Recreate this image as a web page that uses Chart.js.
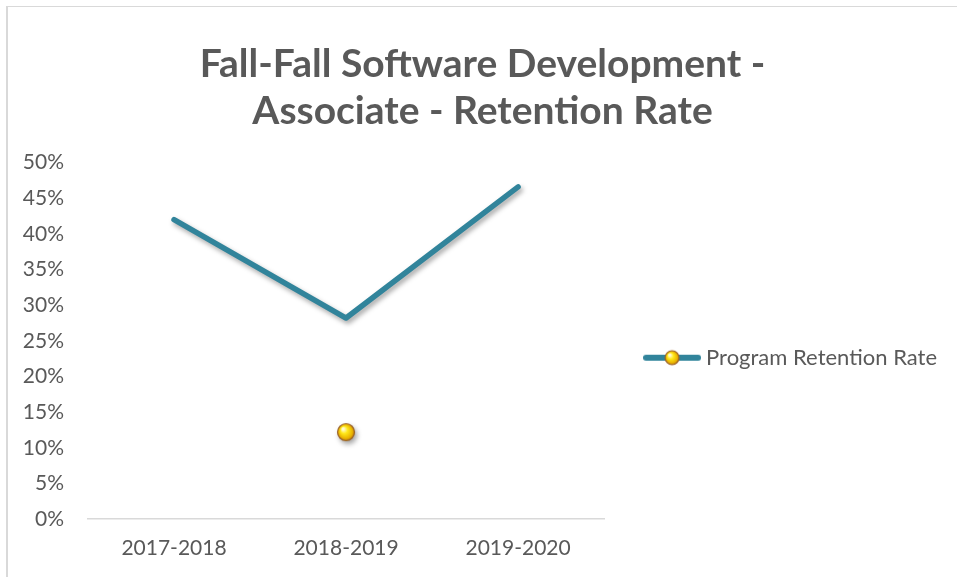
<!DOCTYPE html>
<html>
<head>
<meta charset="utf-8">
<script src="https://cdn.jsdelivr.net/npm/chart.js@4.4.1/dist/chart.umd.min.js"></script>
<style>
  html, body { margin: 0; padding: 0; background: #fff; }
  #wrap { position: relative; width: 957px; height: 577px; overflow: hidden; }
  #frame { position: absolute; left: 6px; top: 6px; width: 980px; height: 600px;
           border-left: 2px solid #d9d9d9; border-top: 1px solid #d9d9d9; }
  canvas { position: absolute; left: 0; top: 0; }
</style>
</head>
<body>
<div id="wrap">
  <div id="frame"></div>
  <canvas id="retentionChart" width="957" height="577"></canvas>
</div>
<script>
var categories = ['2017-2018', '2018-2019', '2019-2020'];
var retentionRate = [42.0, 28.2, 46.6];
var markerValues = [null, 12.2, null];
var seriesName = 'Program Retention Rate';
var chartTitle = ['Fall-Fall Software Development -', 'Associate - Retention Rate'];

var lineColor = '#31849b';
var textColor = '#595959';

// yellow ball used for the marker and in the legend
function drawBall(ctx, cx, cy, r) {
    var g = ctx.createRadialGradient(cx - r * 0.35, cy - r * 0.4, 1, cx, cy, r);
    g.addColorStop(0, '#fffbd2');
    g.addColorStop(0.35, '#ffe81a');
    g.addColorStop(0.8, '#e9b200');
    g.addColorStop(1, '#b8770f');
    ctx.beginPath();
    ctx.arc(cx, cy, r, 0, Math.PI * 2);
    ctx.fillStyle = g;
    ctx.fill();
    ctx.lineWidth = 1.2;
    ctx.strokeStyle = '#9c6428';
    ctx.stroke();
}

var ballImg = document.createElement('canvas');
ballImg.width = 20; ballImg.height = 20;
drawBall(ballImg.getContext('2d'), 10, 10, 8.5);

var legendImg = document.createElement('canvas');
legendImg.width = 58; legendImg.height = 20;
(function () {
    var c = legendImg.getContext('2d');
    c.strokeStyle = lineColor;
    c.lineWidth = 6;
    c.lineCap = 'round';
    c.beginPath();
    c.moveTo(3, 10);
    c.lineTo(55, 10);
    c.stroke();
    drawBall(c, 29, 10, 7);
})();

var shadowPlugin = {
    id: 'lineShadow',
    beforeDatasetDraw: function (chart) {
        var ctx = chart.ctx;
        ctx.save();
        ctx.shadowColor = 'rgba(0,0,0,0.35)';
        ctx.shadowBlur = 5;
        ctx.shadowOffsetX = 2;
        ctx.shadowOffsetY = 3;
    },
    afterDatasetDraw: function (chart) {
        chart.ctx.restore();
    }
};

function buildChart() {
    var ctx = document.getElementById('retentionChart').getContext('2d');
    new Chart(ctx, {
        type: 'line',
        data: {
            labels: categories,
            datasets: [
                {
                    label: seriesName,
                    data: retentionRate,
                    borderColor: lineColor,
                    borderWidth: 5.5,
                    borderCapStyle: 'round',
                    borderJoinStyle: 'round',
                    pointRadius: 0,
                    tension: 0,
                    fill: false
                },
                {
                    label: 'marker',
                    data: markerValues,
                    showLine: false,
                    pointStyle: ballImg,
                    pointRadius: 9
                }
            ]
        },
        options: {
            responsive: false,
            animation: false,
            layout: { padding: { left: 18, right: 10, top: 8, bottom: 0 } },
            plugins: {
                title: {
                    display: true,
                    text: chartTitle,
                    color: textColor,
                    font: { family: 'Lato', size: 39, weight: 'bold', lineHeight: 1.2 },
                    padding: { top: 33, bottom: 28 }
                },
                legend: {
                    position: 'right',
                    maxWidth: 420,
                    // empty legend title only pushes the entry down to where Excel puts it
                    title: { display: true, text: '', padding: { top: 0, bottom: 116 } },
                    labels: {
                        usePointStyle: true,
                        pointStyleWidth: 46,
                        padding: 45,
                        color: textColor,
                        font: { family: 'Lato', size: 22 },
                        generateLabels: function () {
                            return [{
                                text: seriesName,
                                pointStyle: legendImg,
                                fontColor: textColor,
                                datasetIndex: 0,
                                lineWidth: 0
                            }];
                        }
                    }
                },
                tooltip: { enabled: false }
            },
            scales: {
                x: {
                    offset: true,
                    grid: { display: false, drawTicks: false },
                    border: { display: true, color: '#d9d9d9', width: 1.5 },
                    ticks: { color: textColor, font: { family: 'Lato', size: 21, lineHeight: 0.85 }, padding: 20 }
                },
                y: {
                    min: 0,
                    max: 50,
                    grid: { display: false, drawTicks: false },
                    border: { display: false },
                    afterFit: function (scale) { scale.width = 70; },
                    ticks: {
                        stepSize: 5,
                        color: textColor,
                        font: { family: 'Lato', size: 21 },
                        padding: 24,
                        callback: function (v) { return v + '%'; }
                    }
                }
            }
        },
        plugins: [shadowPlugin]
    });
}

Promise.all([
    document.fonts.load('21px Lato'),
    document.fonts.load('22px Lato'),
    document.fonts.load('bold 39px Lato')
]).then(buildChart, buildChart);
</script>
</body>
</html>
